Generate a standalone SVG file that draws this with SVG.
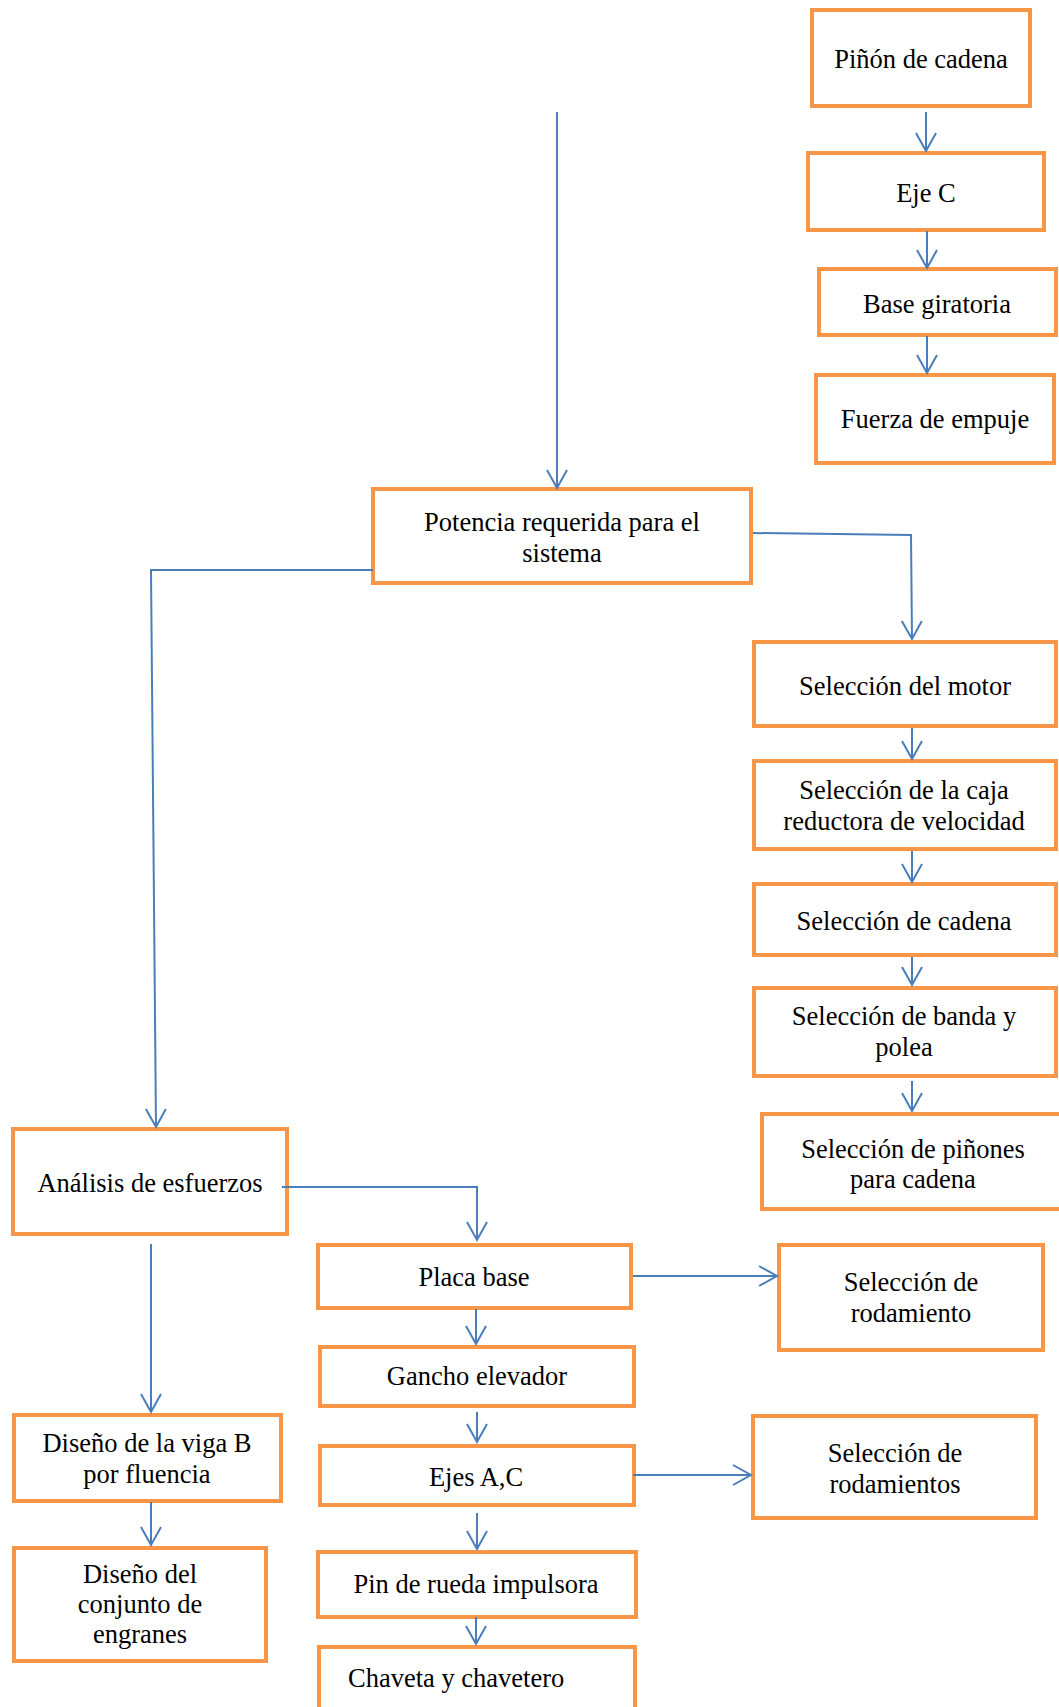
<svg xmlns="http://www.w3.org/2000/svg" width="1059" height="1707" viewBox="0 0 1059 1707">
<style>
.box{fill:#ffffff;stroke:#F79646;stroke-width:4;}
.t{font-family:"Liberation Serif","Times New Roman",serif;font-size:26.5px;fill:#000000;text-anchor:middle;}
.c{fill:none;stroke:#4A7EBB;stroke-width:2;marker-end:url(#ah);}
</style>
<defs>
<marker id="ah" markerUnits="userSpaceOnUse" markerWidth="24" markerHeight="24" viewBox="-20 -12 22 24" refX="0" refY="0" orient="auto">
<path d="M-18,-10 L0,0 L-18,10" fill="none" stroke="#4A7EBB" stroke-width="2"/>
</marker>
</defs>
<rect width="1059" height="1707" fill="#ffffff"/>
<g id="n-pinon"><rect class="box" x="812" y="10" width="218" height="96"/><text class="t" x="921" y="68">Piñón de cadena</text></g>
<g id="n-ejec"><rect class="box" x="808" y="153" width="236" height="77"/><text class="t" x="926" y="202">Eje C</text></g>
<g id="n-base"><rect class="box" x="819" y="269" width="237" height="66"/><text class="t" x="937" y="313">Base giratoria</text></g>
<g id="n-fuerza"><rect class="box" x="816" y="375" width="238" height="88"/><text class="t" x="935" y="428">Fuerza de empuje</text></g>
<g id="n-potencia"><rect class="box" x="373" y="489" width="378" height="94"/><text class="t" x="562" y="531">Potencia requerida para el</text><text class="t" x="562" y="562">sistema</text></g>
<g id="n-motor"><rect class="box" x="754" y="642" width="302" height="84"/><text class="t" x="905" y="695">Selección del motor</text></g>
<g id="n-caja"><rect class="box" x="754" y="761" width="302" height="88"/><text class="t" x="904" y="799">Selección de la caja</text><text class="t" x="904" y="830">reductora de velocidad</text></g>
<g id="n-cadena"><rect class="box" x="754" y="884" width="302" height="71"/><text class="t" x="904" y="930">Selección de cadena</text></g>
<g id="n-banda"><rect class="box" x="754" y="988" width="302" height="88"/><text class="t" x="904" y="1025">Selección de banda y</text><text class="t" x="904" y="1056">polea</text></g>
<g id="n-pinones"><rect class="box" x="762" y="1114" width="300" height="95"/><text class="t" x="913" y="1158">Selección de piñones</text><text class="t" x="913" y="1188">para cadena</text></g>
<g id="n-analisis"><rect class="box" x="13" y="1129" width="274" height="105"/><text class="t" x="150" y="1192">Análisis de esfuerzos</text></g>
<g id="n-placa"><rect class="box" x="318" y="1245" width="313" height="63"/><text class="t" x="474" y="1286">Placa base</text></g>
<g id="n-rodamiento"><rect class="box" x="779" y="1245" width="264" height="105"/><text class="t" x="911" y="1291">Selección de</text><text class="t" x="911" y="1322">rodamiento</text></g>
<g id="n-gancho"><rect class="box" x="320" y="1347" width="314" height="59"/><text class="t" x="477" y="1385">Gancho elevador</text></g>
<g id="n-ejes"><rect class="box" x="320" y="1446" width="314" height="59"/><text class="t" x="476" y="1486">Ejes A,C</text></g>
<g id="n-rodamientos"><rect class="box" x="753" y="1416" width="283" height="102"/><text class="t" x="895" y="1462">Selección de</text><text class="t" x="895" y="1493">rodamientos</text></g>
<g id="n-pin"><rect class="box" x="318" y="1552" width="318" height="65"/><text class="t" x="476" y="1593">Pin de rueda impulsora</text></g>
<g id="n-chaveta"><rect class="box" x="319" y="1647" width="316" height="70"/><text class="t" x="348" y="1687" style="text-anchor:start">Chaveta y chavetero</text></g>
<g id="n-viga"><rect class="box" x="14" y="1415" width="267" height="86"/><text class="t" x="147" y="1452">Diseño de la viga B</text><text class="t" x="147" y="1483">por fluencia</text></g>
<g id="n-conjunto"><rect class="box" x="14" y="1548" width="252" height="113"/><text class="t" x="140" y="1583">Diseño del</text><text class="t" x="140" y="1613">conjunto de</text><text class="t" x="140" y="1643">engranes</text></g>
<g id="connectors">
<path class="c" d="M926,112 L926,151"/>
<path class="c" d="M927,231 L927,268"/>
<path class="c" d="M927,336 L927,373"/>
<path class="c" d="M557,112 L557,488"/>
<path class="c" d="M373,570 L151,570 L156,1127"/>
<path class="c" d="M753,533 L911,535 L912,639"/>
<path class="c" d="M912,728 L912,759"/>
<path class="c" d="M912,851 L912,882"/>
<path class="c" d="M912,957 L912,985"/>
<path class="c" d="M912,1081 L912,1111"/>
<path class="c" d="M282,1187 L477,1187 L477,1240"/>
<path class="c" d="M151,1244 L151,1412"/>
<path class="c" d="M633,1276 L777,1276"/>
<path class="c" d="M476,1309 L476,1344"/>
<path class="c" d="M477,1412 L477,1442"/>
<path class="c" d="M633,1475 L751,1475"/>
<path class="c" d="M477,1513 L477,1549"/>
<path class="c" d="M476,1617 L476,1644"/>
<path class="c" d="M151,1502 L151,1545"/>
</g>
</svg>
